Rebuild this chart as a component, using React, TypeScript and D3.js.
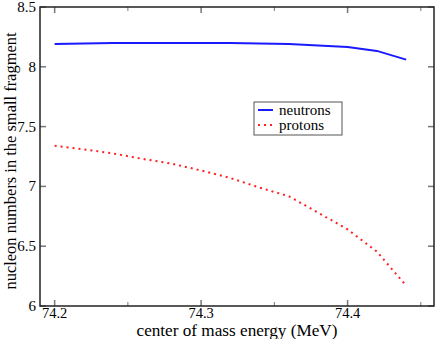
import React, { useEffect, useRef } from 'react'
import * as d3 from 'd3'

const energies = [74.2, 74.22, 74.24, 74.26, 74.28, 74.3, 74.32, 74.34, 74.36, 74.38, 74.4, 74.42, 74.44]
const neutrons = [8.19, 8.195, 8.2, 8.2, 8.2, 8.2, 8.2, 8.195, 8.19, 8.178, 8.165, 8.133, 8.06]
const protons = [7.34, 7.31, 7.275, 7.23, 7.19, 7.133, 7.07, 6.99, 6.917, 6.78, 6.64, 6.455, 6.17]
const xTicks = [74.2, 74.3, 74.4]
const xMinor = [74.25, 74.35, 74.45]
const yTicks = [6, 6.5, 7, 7.5, 8, 8.5]

const W = 436
const H = 339
const margin = { top: 7, right: 2, bottom: 33, left: 40 }

const App = () => {
  const ref = useRef<SVGSVGElement>(null)

  useEffect(() => {
    const svg = d3.select(ref.current)
    svg.selectAll('*').remove()
    const width = W - margin.left - margin.right
    const height = H - margin.top - margin.bottom
    const font = "'Liberation Serif', 'Times New Roman', 'DejaVu Serif', serif"

    const x = d3.scaleLinear().domain([74.19, 74.459]).range([0, width])
    const y = d3.scaleLinear().domain([6, 8.5]).range([height, 0])

    const g = svg.append('g')
      .attr('transform', 'translate(' + margin.left + ',' + margin.top + ')')

    // ticks on all four sides, pointing inward
    const tickColor = '#777'
    xTicks.forEach(t => {
      g.append('line').attr('x1', x(t)).attr('x2', x(t)).attr('y1', height).attr('y2', height - 6).attr('stroke', tickColor).attr('stroke-width', 1.5)
      g.append('line').attr('x1', x(t)).attr('x2', x(t)).attr('y1', 0).attr('y2', 6).attr('stroke', tickColor).attr('stroke-width', 1.5)
      g.append('text').attr('x', x(t)).attr('y', height + 12)
        .attr('text-anchor', 'middle').attr('font-family', font).attr('font-size', 14.5)
        .text(d3.format('.1f')(t))
    })
    xMinor.forEach(t => {
      g.append('line').attr('x1', x(t)).attr('x2', x(t)).attr('y1', height).attr('y2', height - 4).attr('stroke', tickColor).attr('stroke-width', 1)
      g.append('line').attr('x1', x(t)).attr('x2', x(t)).attr('y1', 0).attr('y2', 4).attr('stroke', tickColor).attr('stroke-width', 1)
    })
    yTicks.forEach(t => {
      g.append('line').attr('x1', 0).attr('x2', 6).attr('y1', y(t)).attr('y2', y(t)).attr('stroke', tickColor).attr('stroke-width', 1.5)
      g.append('line').attr('x1', width).attr('x2', width - 6).attr('y1', y(t)).attr('y2', y(t)).attr('stroke', tickColor).attr('stroke-width', 1.5)
      g.append('text').attr('x', -4).attr('y', y(t) + 5)
        .attr('text-anchor', 'end').attr('font-family', font).attr('font-size', 15)
        .text(String(t))
    })

    g.append('rect').attr('x', 0).attr('y', 0).attr('width', width).attr('height', height)
      .attr('fill', 'none').attr('stroke', '#222').attr('stroke-width', 1.5)

    const line = d3.line<number>()
      .x((d, i) => x(energies[i]))
      .y(d => y(d))

    g.append('path').datum(neutrons).attr('d', line)
      .attr('fill', 'none').attr('stroke', '#1a1aff').attr('stroke-width', 2)
    g.append('path').datum(protons).attr('d', line)
      .attr('fill', 'none').attr('stroke', '#ff2020').attr('stroke-width', 2)
      .attr('stroke-dasharray', '2,4')

    // legend
    const lg = svg.append('g').attr('transform', 'translate(254,102)')
    lg.append('rect').attr('width', 88).attr('height', 33)
      .attr('fill', 'white').attr('stroke', '#555').attr('stroke-width', 1)
    lg.append('line').attr('x1', 4).attr('x2', 19).attr('y1', 8).attr('y2', 8)
      .attr('stroke', '#1a1aff').attr('stroke-width', 2)
    lg.append('line').attr('x1', 4).attr('x2', 19).attr('y1', 23).attr('y2', 23)
      .attr('stroke', '#ff2020').attr('stroke-width', 2).attr('stroke-dasharray', '2,4')
    lg.append('text').attr('x', 25).attr('y', 13).attr('font-family', font).attr('font-size', 15).text('neutrons')
    lg.append('text').attr('x', 25).attr('y', 28).attr('font-family', font).attr('font-size', 15).text('protons')

    svg.append('text').attr('x', 237).attr('y', H - 3)
      .attr('text-anchor', 'middle').attr('font-family', font).attr('font-size', 16)
      .attr('textLength', 201).attr('lengthAdjust', 'spacingAndGlyphs')
      .text('center of mass energy (MeV)')
    svg.append('text')
      .attr('transform', 'translate(16,' + 161 + ') rotate(-90)')
      .attr('text-anchor', 'middle').attr('font-family', font).attr('font-size', 17)
      .attr('textLength', 257).attr('lengthAdjust', 'spacingAndGlyphs')
      .text('nucleon numbers in the small fragment')
  }, [])

  return <svg ref={ref} width={W} height={H} style={{ position: 'absolute', left: 0, top: 0, background: 'white' }} />
}

export default App
